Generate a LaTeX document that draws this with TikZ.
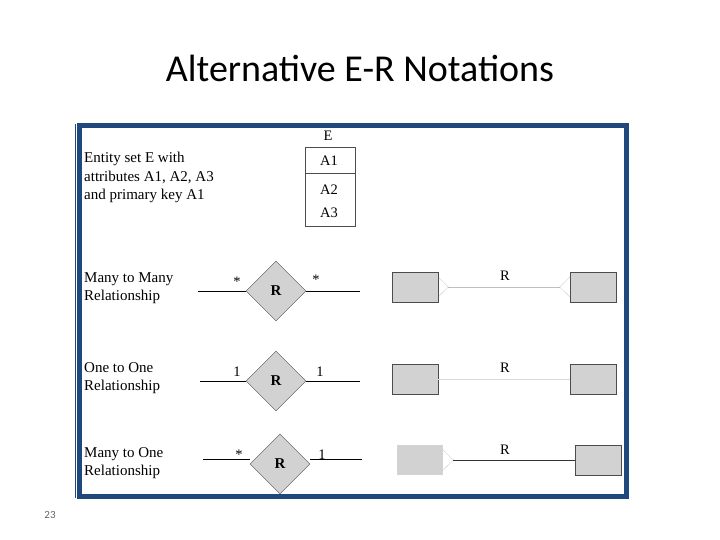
\documentclass[tikz,border=0pt]{standalone}
\usepackage{fontspec}
\setmainfont{Liberation Serif}
\newfontfamily\titlefont{Carlito}
\usetikzlibrary{shapes.geometric,calc}
\definecolor{framebl}{RGB}{31,73,125}
\definecolor{boxgray}{RGB}{210,210,210}
\tikzset{
  note/.style={anchor=north west,align=left,font=\fontsize{15}{18.5}\selectfont,inner sep=0pt},
  rel/.style={diamond,draw=black!70,fill=boxgray,minimum width=60pt,minimum height=60pt,inner sep=0pt,font=\fontsize{15}{15}\selectfont\bfseries},
  ent/.style={draw=black!70,fill=boxgray,minimum width=46pt,minimum height=30pt,inner sep=0pt},
  lbl/.style={font=\fontsize{14.5}{14.5}\selectfont,inner sep=1pt},
  crow/.style={draw=black!60,densely dotted,thin}
}
\begin{document}
\begin{tikzpicture}[x=1pt,y=-1pt]
\useasboundingbox (0,0) rectangle (720,540);
\node[font=\titlefont\fontsize{38}{38}\selectfont] (title) at (360,68) {Alternative E-R Notations};
\node[font=\titlefont\fontsize{11}{11}\selectfont,text=black!60] (pg) at (50,515) {23};
% frame
\draw[framebl,line width=5pt] (79,126) rectangle (626,496);
\draw[framebl,line width=0.8pt] (75.5,124) -- (75.5,498);
% entity set
\node[note] (enttext) at (84,152) {Entity set E with\\attributes A1, A2, A3\\and primary key A1};
\draw[black!70] (305,147) rectangle (355,226);
\draw[black!70] (305,173) -- (355,173);
\node[lbl] (ename) at (328,136) {E};
\node[lbl] (a1) at (329,161) {A1};
\node[lbl] (a2) at (329,190) {A2};
\node[lbl] (a3) at (329,213) {A3};
% many to many
\node[note] (mmtext) at (84,272) {Many to Many\\Relationship};
\node[rel] (r1) at (276,291) {R};
\coordinate (l1) at (198,291);
\coordinate (e1) at (360,291);
\draw (l1) -- (r1.west);
\draw (r1.east) -- (e1);
\node[lbl] at (237,282) {*};
\node[lbl] at (316,280) {*};
\node[ent] (mma) at (415,287) {};
\node[ent] (mmb) at (593,287) {};
\coordinate (mmca) at ($(mma.east)+(10,0)$);
\coordinate (mmcb) at ($(mmb.west)+(-10,0)$);
\draw[black!25] (mmca) -- (mmcb);
\draw[crow] ($(mma.east)+(0,-10)$) -- (mmca) -- ($(mma.east)+(0,10)$);
\draw[crow] ($(mmb.west)+(0,-10)$) -- (mmcb) -- ($(mmb.west)+(0,10)$);
\node[lbl] (rr1) at (505,276) {R};
% one to one
\node[note] (ootext) at (84,362) {One to One\\Relationship};
\node[rel] (r2) at (276,381) {R};
\coordinate (l2) at (200,381);
\coordinate (e2) at (360,381);
\draw (l2) -- (r2.west);
\draw (r2.east) -- (e2);
\node[lbl] at (237,372) {1};
\node[lbl] at (320,372) {1};
\node[ent] (ooa) at (415,379) {};
\node[ent] (oob) at (593,379) {};
\draw[black!15] (ooa.east) -- (oob.west);
\node[lbl] (rr2) at (505,368) {R};
% many to one
\node[note] (motext) at (84,447) {Many to One\\Relationship};
\node[rel] (r3) at (280,464) {R};
\coordinate (l3) at (203,459);
\coordinate (e3) at (362,459);
\draw (l3) -- (r3.west |- l3);
\draw (r3.east |- e3) -- (e3);
\node[lbl] at (239,455) {*};
\node[lbl] at (322,455) {1};
\node[ent,draw=none] (moa) at (420,460) {};
\node[ent] (mob) at (598,460) {};
\coordinate (moca) at ($(moa.east)+(10,0)$);
\draw[black!80] (moca) -- (mob.west);
\draw[crow] ($(moa.east)+(0,-10)$) -- (moca) -- ($(moa.east)+(0,10)$);
\node[lbl] (rr3) at (505,450) {R};
\end{tikzpicture}
\end{document}
